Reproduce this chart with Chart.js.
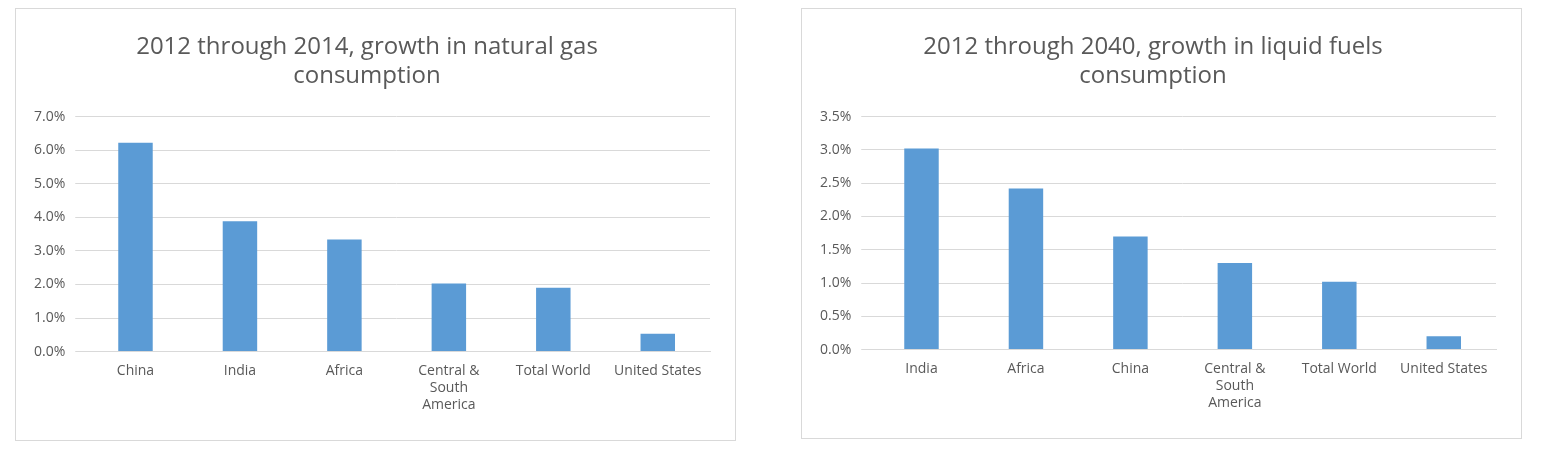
<!DOCTYPE html>
<html lang="en">
<head>
<meta charset="UTF-8">
<title>Growth in consumption</title>
<style>
    body { margin: 0; background: #fff; }
    .panel {
        position: absolute;
        border: 1px solid #d9d9d9;
        background: #fff;
        box-sizing: border-box;
    }
</style>
</head>
<body>
<div class="panel" style="left:15px; top:8px; width:721px; height:433px;">
    <canvas id="gas"></canvas>
</div>
<div class="panel" style="left:801px; top:8px; width:721px; height:431px;">
    <canvas id="liquid"></canvas>
</div>

<script src="https://cdn.jsdelivr.net/npm/chart.js@4/dist/chart.umd.min.js"></script>
<script>
    const barColor = 'rgb(91, 155, 213)';

    const charts = {
        gas: {
            title: ['2012 through 2014, growth in natural gas', 'consumption'],
            labels: ['China', 'India', 'Africa', ['Central &', 'South', 'America'], 'Total World', 'United States'],
            values: [6.22, 3.88, 3.34, 2.03, 1.9, 0.53],
            max: 7, step: 1
        },
        liquid: {
            title: ['2012 through 2040, growth in liquid fuels', 'consumption'],
            labels: ['India', 'Africa', 'China', ['Central &', 'South', 'America'], 'Total World', 'United States'],
            values: [3.02, 2.42, 1.70, 1.30, 1.02, 0.2],
            max: 3.5, step: 0.5
        }
    };

    Chart.defaults.font.family = "'Open Sans', 'Liberation Sans', sans-serif";
    Chart.defaults.color = '#595959';

    function showChart(id, cfg) {
        new Chart(document.getElementById(id), {
            type: 'bar',
            data: {
                labels: cfg.labels,
                datasets: [{ data: cfg.values, backgroundColor: barColor, categoryPercentage: 0.33, barPercentage: 1 }]
            },
            options: {
                responsive: true,
                maintainAspectRatio: false,
                animation: false,
                layout: { padding: { left: 8, right: 25, top: 10, bottom: 24 } },
                plugins: {
                    legend: { display: false },
                    tooltip: { enabled: false },
                    title: {
                        display: true,
                        text: cfg.title,
                        font: { size: 24, weight: 'normal' },
                        lineHeight: 1.4,
                        padding: { top: 14, bottom: 26 }
                    }
                },
                scales: {
                    x: {
                        grid: { display: false },
                        border: { color: '#d9d9d9' },
                        ticks: { font: { size: 14 }, maxRotation: 0, autoSkip: false }
                    },
                    y: {
                        min: 0, max: cfg.max,
                        grid: { color: '#d9d9d9' },
                        border: { display: false },
                        ticks: {
                            stepSize: cfg.step,
                            font: { size: 14 },
                            padding: 10,
                            callback: v => v.toFixed(1) + '%'
                        }
                    }
                }
            }
        });
    }

    for (const id in charts) {
        showChart(id, charts[id]);
    }
</script>
</body>
</html>
